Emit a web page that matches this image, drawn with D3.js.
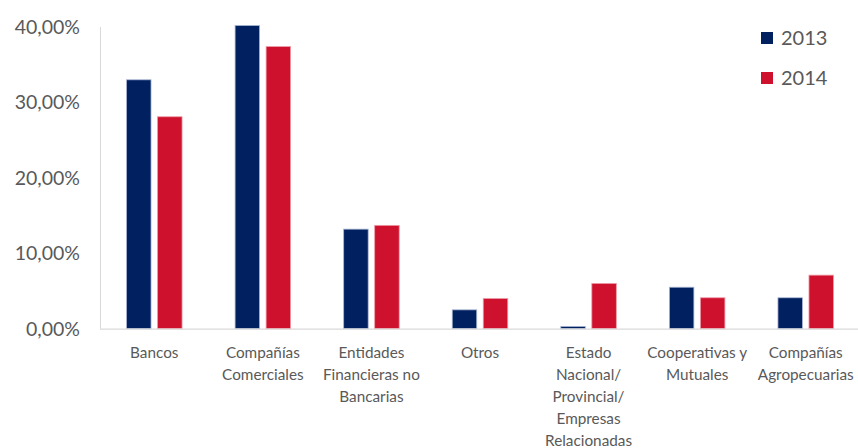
<!DOCTYPE html>
<html>
<head>
<meta charset="utf-8">
<script src="https://cdn.jsdelivr.net/npm/d3@7"></script>
<style>
  html, body { margin: 0; padding: 0; background: #fff; }
  svg { display: block; font-family: Lato, "Open Sans", sans-serif; }
</style>
</head>
<body>
<svg id="chart" width="858" height="448"></svg>
<script>
// Category labels (line breaks marked with \n)
const categories = [
  "Bancos",
  "Compañías\nComerciales",
  "Entidades\nFinancieras no\nBancarias",
  "Otros",
  "Estado\nNacional/\nProvincial/\nEmpresas\nRelacionadas",
  "Cooperativas y\nMutuales",
  "Compañías\nAgropecuarias"
];
const seriesNames = ["2013", "2014"];
const values2013 = [33.0, 40.2, 13.2, 2.5, 0.3, 5.5, 4.1];
const values2014 = [28.1, 37.4, 13.7, 4.0, 6.0, 4.1, 7.1];
const yTicks = [0, 10, 20, 30, 40];
const colors = ["#002060", "#CE112D"];
const strokeColors = ["#a9b6d4", "#ee9aa6"];

const svg = d3.select("#chart");
const margin = { left: 100, right: -2, top: 27, bottom: 119 };
const width = 858, height = 448;

const x = d3.scaleBand()
  .domain(categories)
  .range([margin.left, width - margin.right])
  .paddingInner(0).paddingOuter(0);

const y = d3.scaleLinear()
  .domain([0, 40])
  .range([height - margin.bottom - 0.3, margin.top]);

const x1 = d3.scaleBand()
  .domain(seriesNames)
  .range([0, x.bandwidth()])
  .paddingInner(0.21)
  .paddingOuter(0.855);

const rows = categories.map((c, i) => ({ cat: c, vals: [values2013[i], values2014[i]] }));

// Bars
const groups = svg.append("g").selectAll("g")
  .data(rows).join("g")
  .attr("transform", d => `translate(${x(d.cat)},0)`);

groups.selectAll("rect")
  .data(d => d.vals.map((v, j) => ({ v, j })))
  .join("rect")
  .attr("x", d => x1(seriesNames[d.j]))
  .attr("width", x1.bandwidth())
  .attr("y", d => y(d.v))
  .attr("height", d => y(0) - y(d.v))
  .attr("fill", d => colors[d.j])
  .attr("stroke", d => strokeColors[d.j])
  .attr("stroke-width", 0.8);

// Y axis line
svg.append("line")
  .attr("x1", margin.left + 0.5).attr("x2", margin.left + 0.5)
  .attr("y1", y(40)).attr("y2", y(0))
  .attr("stroke", "#d9d9d9").attr("stroke-width", 1);

// Baseline
svg.append("line")
  .attr("x1", margin.left).attr("x2", width)
  .attr("y1", y(0) + 0.5).attr("y2", y(0) + 0.5)
  .attr("stroke", "#d9d9d9").attr("stroke-width", 1.2);

// Y tick labels
const fmt = v => v.toFixed(2).replace(".", ",") + "%";
svg.append("g").selectAll("text")
  .data(yTicks).join("text")
  .attr("x", 80)
  .attr("y", d => y(d))
  .attr("dy", "0.36em")
  .attr("text-anchor", "end")
  .attr("font-size", 19.5)
  .attr("fill", "#595959")
  .text(fmt);

// Category labels
const labels = svg.append("g").selectAll("text")
  .data(categories).join("text")
  .attr("x", d => x(d) + x.bandwidth() / 2)
  .attr("y", 353)
  .attr("text-anchor", "middle")
  .attr("font-size", 15.3)
  .attr("fill", "#595959");

labels.selectAll("tspan")
  .data(d => d.split("\n"))
  .join("tspan")
  .attr("x", function () { return d3.select(this.parentNode).attr("x"); })
  .attr("dy", (d, i) => i === 0 ? "0.35em" : "22px")
  .text(d => d);

// Legend
const legend = svg.append("g").selectAll("g")
  .data(seriesNames).join("g")
  .attr("transform", (d, i) => `translate(761, ${32 + i * 40})`);

legend.append("rect")
  .attr("width", 12).attr("height", 12)
  .attr("fill", (d, i) => colors[i]);

legend.append("text")
  .attr("x", 20).attr("y", 6)
  .attr("dy", "0.36em")
  .attr("font-size", 20)
  .attr("fill", "#595959")
  .text(d => d);
</script>
</body>
</html>
